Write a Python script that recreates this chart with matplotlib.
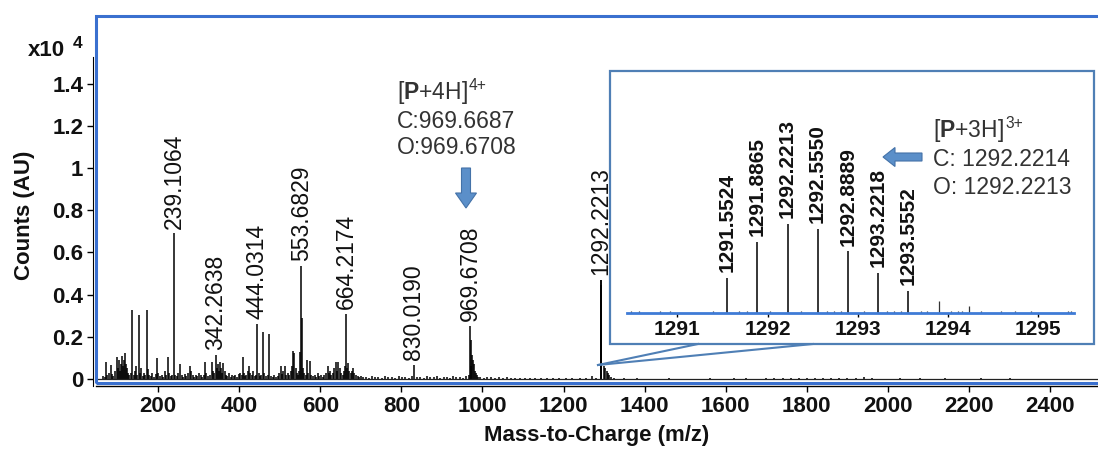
import matplotlib
matplotlib.use("Agg")
import matplotlib.pyplot as plt
from matplotlib.patches import Rectangle, FancyArrow
from matplotlib.lines import Line2D
from matplotlib.transforms import Affine2D

plt.rcParams['font.family'] = ['Liberation Sans', 'DejaVu Sans']
plt.rcParams['mathtext.fontset'] = 'custom'
plt.rcParams['mathtext.rm'] = 'Liberation Sans'
plt.rcParams['mathtext.bf'] = 'Liberation Sans:bold'

# ---------------- data (counts in units of 1e4) ----------------
# labelled peaks of the full spectrum
label_mz = [239.1064, 342.2638, 444.0314, 553.6829, 664.2174, 830.0190, 969.6708, 1292.2213]
label_int = [0.69, 0.114, 0.26, 0.537, 0.31, 0.066, 0.25, 0.47]

# other prominent peaks
minor_mz = [137, 153, 172, 198, 224, 409, 459, 474, 534, 536, 550, 555, 567, 575,
            618, 639, 645, 669, 971, 975, 977, 979, 1300, 1303, 1306, 1310, 1313]
minor_int = [0.327, 0.305, 0.327, 0.10, 0.104, 0.103, 0.222, 0.212, 0.135, 0.125, 0.13, 0.29, 0.09, 0.083,
             0.063, 0.08, 0.08, 0.077, 0.185, 0.114, 0.09, 0.07, 0.06, 0.05, 0.04, 0.03, 0.02]

# low-level peaks
noise_mz = [64, 68, 72, 75, 79, 83, 86, 90, 94, 98, 101, 103, 106, 109, 111, 113, 115, 118, 120, 123, 126, 129,
            133, 140, 143, 146, 149, 156, 159, 162, 165, 168, 175, 178, 182, 186, 190, 194, 201, 205, 209, 213,
            217, 220, 228, 231, 234, 242, 246, 250, 254, 258, 262, 266, 270, 274, 279, 282, 285, 289, 293, 297,
            301, 305, 309, 313, 316, 319, 323, 327, 332, 335, 338, 345, 348, 350, 353, 356, 358, 361, 364, 367,
            371, 375, 379, 383, 387, 391, 395, 399, 403, 406, 412, 415, 418, 421, 425, 428, 431, 435, 438, 441,
            449, 452, 455, 462, 466, 470, 479, 483, 487, 491, 495, 498, 502, 506, 509, 513, 516, 520, 524, 528,
            531, 539, 542, 545, 548, 558, 561, 564, 570, 578, 582, 586, 590, 594, 598, 602, 606, 610, 614, 621,
            624, 627, 631, 635, 642, 648, 651, 655, 658, 661, 667, 672, 675, 678, 681, 684, 688, 692, 696, 700,
            705, 712, 720, 728, 735, 743, 752, 760, 768, 777, 785, 793, 801, 810, 818, 826, 838, 846, 855, 863,
            871, 880, 888, 896, 904, 912, 920, 928, 936, 944, 952, 960, 966, 973, 981, 983, 986, 990, 995,
            1003, 1012, 1020, 1030, 1040, 1050, 1060, 1070, 1080, 1092, 1105, 1118, 1130, 1145, 1160, 1175,
            1190, 1205, 1220, 1240, 1255, 1270, 1280, 1318, 1325,
            1350, 1380, 1420, 1460, 1500, 1560, 1620, 1650, 1700, 1720, 1740, 1760, 1780, 1800, 1820, 1840,
            1860, 1880, 1900, 1920, 1940, 1960, 2030, 2080, 2140, 2230, 2300]
noise_int = [0.015, 0.01, 0.082, 0.02, 0.03, 0.066, 0.025, 0.015, 0.04, 0.106, 0.05, 0.09, 0.04, 0.07, 0.107,
             0.06, 0.09, 0.125, 0.07, 0.05, 0.03, 0.02,
             0.03, 0.02, 0.04, 0.06, 0.02, 0.03, 0.05, 0.015, 0.03, 0.02, 0.045, 0.02, 0.015, 0.03, 0.01, 0.025,
             0.03, 0.015, 0.02, 0.01, 0.04, 0.02, 0.03, 0.015, 0.02, 0.02, 0.015, 0.03, 0.07, 0.02, 0.01, 0.025,
             0.015, 0.03, 0.06, 0.04, 0.02, 0.01, 0.02, 0.015, 0.03, 0.02, 0.01, 0.02, 0.08, 0.03, 0.015, 0.02,
             0.08, 0.04, 0.03, 0.05, 0.07, 0.04, 0.08, 0.05, 0.03, 0.075, 0.04, 0.02,
             0.015, 0.03, 0.01, 0.02, 0.015, 0.02, 0.01, 0.025, 0.03, 0.02, 0.03, 0.015, 0.02, 0.04, 0.06, 0.03,
             0.02, 0.04, 0.015, 0.02,
             0.03, 0.015, 0.02, 0.03, 0.015, 0.02, 0.015, 0.01, 0.02, 0.01, 0.015, 0.03, 0.06, 0.025, 0.04, 0.06,
             0.02, 0.03, 0.02, 0.04,
             0.06, 0.05, 0.03, 0.02, 0.04, 0.05, 0.03, 0.02, 0.03, 0.02, 0.015, 0.02, 0.01, 0.03, 0.015, 0.02,
             0.01, 0.02, 0.03, 0.03,
             0.04, 0.02, 0.03, 0.05, 0.04, 0.05, 0.03, 0.02, 0.04, 0.06, 0.05, 0.04, 0.03, 0.04, 0.05, 0.03,
             0.02, 0.015, 0.01, 0.012,
             0.008, 0.01, 0.006, 0.012, 0.008, 0.01, 0.006, 0.015, 0.008, 0.01, 0.006, 0.012, 0.008, 0.01, 0.006,
             0.012, 0.008, 0.01, 0.006, 0.012,
             0.008, 0.01, 0.015, 0.006, 0.01, 0.008, 0.006, 0.012, 0.008, 0.01, 0.006, 0.015, 0.02, 0.06, 0.04,
             0.03, 0.02, 0.01, 0.008,
             0.006, 0.008, 0.01, 0.006, 0.008, 0.005, 0.008, 0.006, 0.005, 0.007, 0.005, 0.006, 0.005, 0.006,
             0.004, 0.005, 0.004, 0.005, 0.004, 0.005, 0.004, 0.016, 0.005, 0.01, 0.006,
             0.003, 0.003, 0.002, 0.003, 0.002, 0.003, 0.006, 0.004, 0.003, 0.005, 0.004, 0.005, 0.004, 0.006,
             0.004, 0.005, 0.004, 0.005, 0.004, 0.005, 0.01, 0.004, 0.004, 0.005, 0.004, 0.004, 0.004]

# isotope envelope of [P+3H]3+
iso_mz = [1291.5524, 1291.8865, 1292.2213, 1292.5550, 1292.8889, 1293.2218, 1293.5552]
iso_int = [0.185, 0.375, 0.47, 0.444, 0.327, 0.211, 0.116]
iso_labels = ['1291.5524', '1291.8865', '1292.2213', '1292.5550', '1292.8889', '1293.2218', '1293.5552']

# small peaks in the zoomed window
zoom_mz = [1290.48, 1290.57, 1290.81, 1290.92, 1291.39, 1291.68, 1291.77, 1292.03, 1292.37, 1292.66,
           1292.74, 1292.81, 1293.07, 1293.33, 1293.40, 1293.48, 1293.70, 1293.77, 1293.90, 1294.03,
           1294.11, 1294.16, 1294.24, 1294.37, 1294.59, 1294.74, 1294.92, 1295.33, 1295.37]
zoom_int = [0.01, 0.01, 0.012, 0.01, 0.012, 0.01, 0.01, 0.012, 0.01, 0.01,
            0.012, 0.01, 0.01, 0.012, 0.01, 0.01, 0.012, 0.01, 0.063, 0.01,
            0.01, 0.012, 0.037, 0.01, 0.01, 0.01, 0.01, 0.01, 0.01]

main_ticks = list(range(200, 2401, 200))
y_ticks = [0, 0.2, 0.4, 0.6, 0.8, 1.0, 1.2, 1.4]
y_ticklabels = ['0', '0.2', '0.4', '0.6', '0.8', '1', '1.2', '1.4']
zoom_ticks = [1291, 1292, 1293, 1294, 1295]

# ---------------- figure ----------------
W, H = 1098, 453
fig = plt.figure(figsize=(W / 100, H / 100), dpi=100)
pix = Affine2D().scale(1 / W, -1 / H).translate(0, 1) + fig.transFigure


def box(l, t, r, b):
    return [l / W, 1 - b / H, (r - l) / W, (b - t) / H]


FRAME_BLUE = '#3a70cf'
INSET_BLUE = '#4f7fb5'
ARROW_FACE = '#5b8fc9'
ARROW_EDGE = '#4472a8'
TXT = '#111111'

ax = fig.add_axes(box(96, 16, 1098, 386))
ax.set_xlim(47, 2518)
ax.set_ylim(-0.0332, 1.72)

all_mz = label_mz + minor_mz + noise_mz + iso_mz
all_int = label_int + minor_int + noise_int + iso_int
ax.vlines(all_mz, 0, all_int, color='black', lw=1.1)
ax.axhline(0, color='#222222', lw=0.9)

for s in ['top', 'right']:
    ax.spines[s].set_visible(False)
ax.spines['left'].set_position(('outward', 2.2))
ax.spines['left'].set_bounds(-0.033, 1.526)
ax.spines['left'].set_color('black')
ax.spines['bottom'].set_color('black')
ax.spines['bottom'].set_linewidth(1.0)

ax.set_xticks(main_ticks)
ax.set_xticklabels([str(t) for t in main_ticks])
ax.set_yticks(y_ticks)
ax.set_yticklabels(y_ticklabels)
ax.tick_params(axis='both', direction='out', length=4, width=1, colors='black',
               labelsize=16, pad=3)
for lab in ax.get_xticklabels() + ax.get_yticklabels():
    lab.set_fontweight('bold')
    lab.set_color(TXT)

ax.set_xlabel('Mass-to-Charge (m/z)', fontsize=16, fontweight='bold', color=TXT, labelpad=6)
ax.set_ylabel('Counts (AU)', fontsize=16, fontweight='bold', color=TXT)
ax.yaxis.set_label_coords(-0.061, 0.46)

# blue frame around the plotting area
yb = (386 - 382.7) / 370
ax.add_patch(Rectangle((0, yb), 1.05, 1 - yb, transform=ax.transAxes, fill=False,
                       edgecolor=FRAME_BLUE, lw=2.2, clip_on=False, zorder=5))

# peak labels
for mz, h, lab in zip(label_mz, label_int, label_mz):
    ax.annotate(f'{lab:.4f}', xy=(mz, h), xytext=(0, 3.5), textcoords='offset points',
                rotation=90, ha='center', va='bottom', fontsize=16.5, color=TXT)

# exponent marker
fig.text(28 / W, 1 - 50 / H, 'x10', fontsize=16, fontweight='bold', color=TXT, va='center', ha='left')
fig.text(73 / W, 1 - 44 / H, '4', fontsize=12.5, fontweight='bold', color=TXT, va='center', ha='left')

renderer = fig.canvas.get_renderer()


def ion_title(x, y, charge, **kw):
    """Ion notation with a bold P and a charge superscript placed right after it."""
    t = fig.text(x / W, 1 - y / H, r'[$\mathbf{P}$+' + charge[0] + 'H]', **kw)
    bb = t.get_window_extent(renderer=renderer)
    sup_kw = dict(kw)
    sup_kw['fontsize'] = kw['fontsize'] * 0.68
    fig.text(bb.x1 / W + 1 / W, 1 - (y - 8) / H, charge, **sup_kw)


# [P+4H]4+ annotation
ann = dict(fontsize=16.5, color='#333333', ha='left', va='center', zorder=6)
ion_title(397, 93, '4+', **ann)
fig.text(397 / W, 1 - 122 / H, 'C:969.6687', **ann)
fig.text(397 / W, 1 - 148 / H, 'O:969.6708', **ann)
fig.add_artist(FancyArrow(466, 168, 0, 40, width=9, head_width=21, head_length=15,
                          length_includes_head=True, transform=pix,
                          facecolor=ARROW_FACE, edgecolor=ARROW_EDGE, lw=0.8, zorder=6))

# inset frame and connector lines
fig.add_artist(Rectangle((610, 71), 484, 273, transform=pix, facecolor='white',
                         edgecolor=INSET_BLUE, lw=1.6, zorder=2))
for xe in (698, 813):
    fig.add_artist(Line2D([598, xe], [365, 344], transform=pix, color=INSET_BLUE,
                          lw=1.5, zorder=2))

# zoomed isotope window
axi = fig.add_axes(box(627, 75, 1074, 313))
axi.set_zorder(3)
axi.patch.set_visible(False)
axi.set_xlim(1290.44, 1295.4)
axi.set_ylim(0, 1.257)
axi.vlines(iso_mz, 0, iso_int, color='black', lw=1.1)
axi.vlines(zoom_mz, 0, zoom_int, color='#333333', lw=0.9)
for s in ['top', 'right', 'left']:
    axi.spines[s].set_visible(False)
axi.spines['bottom'].set_color('#3f7bd6')
axi.spines['bottom'].set_linewidth(2)
axi.set_yticks([])
axi.set_xticks(zoom_ticks)
axi.set_xticklabels([str(t) for t in zoom_ticks])
axi.tick_params(axis='x', direction='out', length=3, width=1, colors='black', labelsize=15, pad=2)
for lab in axi.get_xticklabels():
    lab.set_fontweight('bold')
    lab.set_color(TXT)
for mz, h, lab in zip(iso_mz, iso_int, iso_labels):
    axi.annotate(lab, xy=(mz, h), xytext=(0, 4), textcoords='offset points',
                 rotation=90, ha='center', va='bottom', fontsize=15, fontweight='bold', color=TXT)

# [P+3H]3+ annotation
ion_title(933, 131, '3+', **ann)
fig.text(933 / W, 1 - 159 / H, 'C: 1292.2214', **ann)
fig.text(933 / W, 1 - 188 / H, 'O: 1292.2213', **ann)
fig.add_artist(FancyArrow(922, 157, -39, 0, width=8, head_width=19, head_length=12,
                          length_includes_head=True, transform=pix,
                          facecolor=ARROW_FACE, edgecolor=ARROW_EDGE, lw=0.8, zorder=6))

fig.savefig('out.png', dpi=100, facecolor='white')
